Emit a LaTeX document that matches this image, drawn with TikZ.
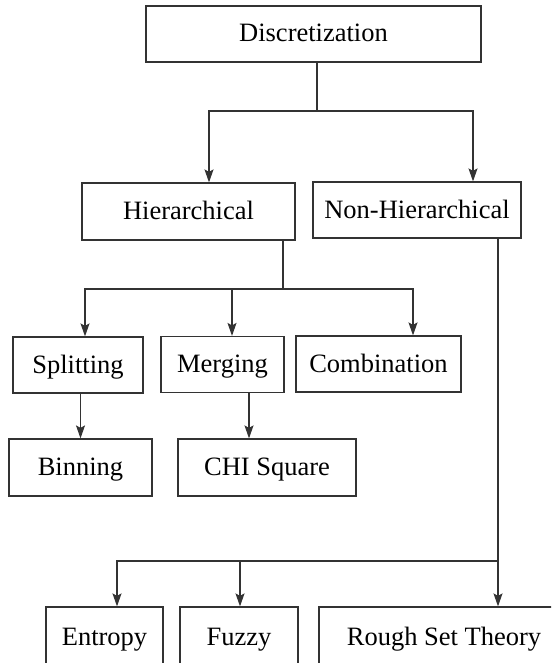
\documentclass[tikz,border=0pt]{standalone}
\usepackage{fontspec}
\setmainfont{Liberation Serif}
\usetikzlibrary{arrows.meta}
\tikzset{
    plain-box/.style = {draw=black!80, line width=1.2pt, rectangle, inner sep=0pt, minimum height=56pt, text height=18pt, text depth=2pt, font=\fontsize{26.5}{30}\selectfont},
    bus-line/.style = {draw=black!80, line width=1.2pt},
    down-arrow/.style = {bus-line, -{Stealth[length=13pt, width=9pt, inset=2.5pt]}},
}

\begin{document}
\begin{tikzpicture}[x=1pt, y=-1pt]
\useasboundingbox (0,0) rectangle (551,663);
\clip (0,0) rectangle (551,663);
\node[plain-box, minimum width=335pt] (disc) at (313.5,34) {Discretization};
\node[plain-box, minimum width=213pt, minimum height=57pt] (hier) at (188.5,211.5) {Hierarchical};
\node[plain-box, minimum width=208pt] (nonhier) at (417,210) {Non-Hierarchical};
\node[plain-box, minimum width=130pt] (split) at (78,365) {Splitting};
\node[plain-box, minimum width=123pt] (merge) at (222.5,364.5) {Merging};
\node[plain-box, minimum width=165pt] (comb) at (378.5,364) {Combination};
\node[plain-box, minimum width=143pt, minimum height=57pt] (bin) at (80.5,467.5) {Binning};
\node[plain-box, minimum width=178pt, minimum height=57pt] (chi) at (267,467.5) {CHI Square};
\node[plain-box, minimum width=117pt, minimum height=60pt] (entropy) at (104.5,637) {Entropy};
\node[plain-box, minimum width=118pt, minimum height=60pt] (fuzzy) at (239,637) {Fuzzy};
\node[plain-box, minimum width=250pt, minimum height=60pt] (rough) at (444,637) {Rough Set Theory};

\coordinate (top-bus) at (317,111);
\coordinate (top-left) at (209,111);
\coordinate (top-right) at (473,111);
\coordinate (mid-bus) at (283,289);
\coordinate (mid-left) at (85,289);
\coordinate (mid-centre) at (232,289);
\coordinate (mid-right) at (413,289);
\coordinate (merge-drop) at (249,0);
\coordinate (low-bus) at (498,561);
\coordinate (low-left) at (117,561);
\coordinate (low-centre) at (240,561);

\draw[bus-line] (top-bus |- disc.south) -- (top-bus);
\draw[down-arrow] (top-bus) -- (top-left) -- (top-left |- hier.north);
\draw[down-arrow] (top-bus) -- (top-right) -- (top-right |- nonhier.north);

\draw[bus-line] (mid-bus |- hier.south) -- (mid-bus);
\draw[down-arrow] (mid-bus) -- (mid-left) -- (mid-left |- split.north);
\draw[down-arrow] (mid-bus) -- (mid-right) -- (mid-right |- comb.north);
\draw[down-arrow] (mid-centre) -- (mid-centre |- merge.north);

\draw[down-arrow] (bin.north |- split.south) -- (bin.north);
\draw[down-arrow] (merge-drop |- merge.south) -- (merge-drop |- chi.north);

\draw[down-arrow] (low-bus |- nonhier.south) -- (low-bus |- rough.north);
\draw[down-arrow] (low-bus) -- (low-left) -- (low-left |- entropy.north);
\draw[down-arrow] (low-centre) -- (low-centre |- fuzzy.north);
\end{tikzpicture}
\end{document}
